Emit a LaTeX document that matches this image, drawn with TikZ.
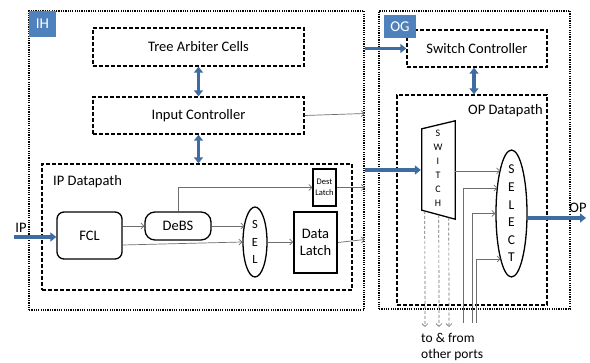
\documentclass[tikz,border=0pt]{standalone}
\usepackage{fontspec}
\setmainfont{Carlito}
\usetikzlibrary{arrows.meta,calc,shapes.geometric}
\definecolor{lblue}{RGB}{79,129,189}
\definecolor{ablue}{RGB}{62,108,162}
\definecolor{cgray}{RGB}{110,110,110}
\begin{document}
\begin{tikzpicture}[x=1pt,y=-1pt,
  font=\fontsize{14.5}{16}\selectfont,
  box/.style 2 args={minimum width=#1pt, minimum height=#2pt, inner sep=0pt},
  dotbox/.style={draw, dash pattern=on 1.2pt off 1.1pt, line width=1.5pt},
  dashbox/.style={draw, dash pattern=on 4pt off 2pt, line width=1.4pt},
  solidbox/.style={draw, line width=1.3pt},
  tag/.style={fill=lblue, text=white, font=\fontsize{15}{17}\selectfont},
  conn/.style={draw=cgray, line width=0.7pt, -{Straight Barb[length=3pt,width=6pt]}},
  dconn/.style={draw=cgray, line width=0.7pt, dash pattern=on 3pt off 2pt, -{Straight Barb[length=3pt,width=6pt]}},
  bigarrow/.style={draw=ablue, line width=3.3pt, -{Triangle[length=6pt,width=9pt]}},
  bigdouble/.style={draw=ablue, line width=3.3pt, {Triangle[length=6pt,width=9pt]}-{Triangle[length=6pt,width=9pt]}}
]
\fill[white] (0,0) rectangle (590,363);
\useasboundingbox (0,0) rectangle (590,363);

% outer groups
\node[dotbox, box={335}{299}] (ih) at (196.5,160.5) {};
\node[dotbox, box={191}{298}] (og) at (474.5,160) {};

% IH contents
\node[dashbox, box={211}{38}] (tac) at (198.5,47) {Tree Arbiter Cells};
\node[dashbox, box={211}{37}] (ic) at (198.5,115.5) {Input Controller};
\node[dashbox, box={310}{126}] (ipd) at (197,227) {};
\node[anchor=west, inner sep=0pt] (ipdl) at (53,182) {IP Datapath};
\node[solidbox, rounded corners=7pt, box={65}{47}] (fcl) at (89.5,235.5) {FCL};
\node[solidbox, rounded corners=10pt, box={66}{28}] (debs) at (178,226) {DeBS};
\node[solidbox, ellipse, box={24}{70}] (sel) at (255,242) {};
\node[align=center, font=\fontsize{12.5}{17.5}\selectfont] (selt) at (sel.center) {S\\E\\L};
\node[draw, line width=1.8pt, box={43}{61}, align=center, font=\fontsize{14.5}{17}\selectfont] (dlatch) at (315.5,242.5) {Data\\Latch};
\node[solidbox, box={23}{37}, align=center, font=\fontsize{8.5}{11.5}\selectfont] (destl) at (324.5,187.5) {Dest\\Latch};
\node[tag, box={27}{26}] (ihtag) at (42.5,24) {IH};

% OG contents
\node[dashbox, box={140}{37}] (sc) at (477,48.5) {Switch Controller};
\node[tag, box={32}{23}] (ogtag) at (400,26.5) {OG};
\node[dashbox, box={150}{210}] (opd) at (472,200) {};
\node[anchor=east, inner sep=0pt] (opdl) at (543,111) {OP Datapath};
\node[box={33}{98}] (sw) at (438.5,170) {};
\draw[solidbox] ($(sw.north west)+(0,8)$) -- (sw.north east) -- (sw.south east) -- ($(sw.south west)+(0,-9)$) -- cycle;
\node[align=center, font=\fontsize{10}{14}\selectfont] (swt) at (438,168) {S\\W\\I\\T\\C\\H};
\node[solidbox, ellipse, box={31}{127}] (selc) at (511.5,213.5) {};
\node[align=center, font=\fontsize{13.5}{17.6}\selectfont] (selct) at (selc.center) {S\\E\\L\\E\\C\\T};

% thin connectors in IH
\draw[conn] (fcl.east |- debs.west) -- (debs.west);
\draw[conn] (debs.east) -- ($(sel.center)+(-10.7,-16)$);
\draw[conn] ($(fcl.east)+(0,9.5)$) -- (sel.west);
\draw[conn] (sel.east) -- (dlatch.west |- sel.east);
\draw[conn] (debs.north) |- (destl.west);
\draw[conn] (destl.east) -- (destl.east -| ih.east);
\draw[conn] (dlatch.east) -- ($(dlatch.east -| ih.east)+(0,-3)$);
\draw[conn] (ic.east) -- ($(ic.east -| ih.east)+(0,-2)$);

% thin connectors in OG
\draw[conn] ($(sw.east)+(0,1)$) -- ($(selc.center)+(-11.5,-42.5)$);
\coordinate (b1) at (463,323);
\coordinate (b2) at (472,323);
\coordinate (b3) at (476,323);
\draw[conn] (b1) |- ($(selc.center)+(-14.2,-25.5)$);
\draw[conn] (b2) |- (selc.west);
\draw[conn] (b3) |- ($(selc.center)+(-10.8,45.5)$);
\coordinate (d1) at (425,327);
\coordinate (d2) at (439,327);
\coordinate (d3) at (449,327);
\draw[dconn] ($(sw.south west)+(3,-8.2)$) -- (d1);
\draw[dconn] ($(sw.south west)+(17,-4.4)$) -- (d2);
\draw[dconn] ($(sw.south west)+(27,-1.6)$) -- (d3);
\node[anchor=north west, align=left, inner sep=0pt, font=\fontsize{13.5}{16}\selectfont] (ports) at (421,333) {to \& from\\other ports};

% thick blue arrows
\coordinate (ipin) at (14,237);
\draw[bigarrow] (ipin) -- (ipin -| fcl.west);
\node (iplbl) at (21,228) {IP};
\draw[bigdouble] (tac.south) -- (ic.north);
\draw[bigdouble] (ic.south) -- (ic.south |- ipd.north);
\draw[bigarrow] (ih.east |- sc.west) -- (sc.west);
\draw[bigdouble] ($(sc.south)+(-3,0)$) -- ($(sc.south |- opd.north)+(-3,0)$);
\draw[bigarrow] (ih.east |- sw.west) -- ($(sw.west)+(-1,0)$);
\coordinate (opout) at (586,218);
\draw[bigarrow] (selc.east |- opout) -- (opout);
\node (oplbl) at (578,208) {OP};
\end{tikzpicture}
\end{document}
